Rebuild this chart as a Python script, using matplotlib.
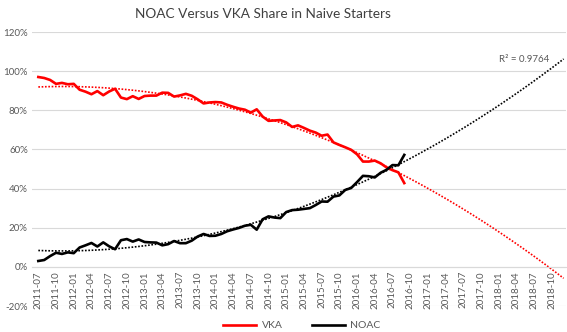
import numpy as np
import matplotlib
matplotlib.use("Agg")
import matplotlib.pyplot as plt

plt.rcParams['font.family'] = ['Lato', 'DejaVu Sans']

# monthly share of naive starters, 2011-07 .. 2016-09 (percent)
vka = [97, 96.5, 95.5, 93.5, 94, 93.3, 93.5, 90.5, 89.5, 88.2,
       89.8, 87.7, 89.6, 91, 86.5, 85.7, 87.2, 85.8, 87.3, 87.5,
       87.5, 89, 88.9, 87, 87.6, 88.4, 87.4, 85.6, 83.5, 84,
       84.2, 84, 82.8, 81.8, 80.9, 80.3, 78.8, 80.5, 76.8, 74.6,
       74.8, 75, 73.8, 71.5, 72.3, 71, 69.6, 68.6, 67, 67.6,
       63.6, 62.3, 61.1, 59.8, 57.5, 53.8, 53.8, 54.3, 52.9, 50.8,
       49.4, 48.3, 42.8]
noac = [3, 3.5, 5.5, 7.2, 6.6, 7.4, 7, 9.9, 11, 12.2,
        10.4, 12.5, 10.5, 9, 13.6, 14.2, 12.9, 14, 12.7, 12.5,
        12.4, 11, 11.6, 13.2, 12.1, 12.1, 13.4, 15.5, 16.8, 15.8,
        15.9, 16.8, 18.2, 19.1, 19.9, 21, 21.5, 19, 24.3, 25.8,
        25.2, 24.9, 28, 29, 29.2, 29.6, 30, 31.6, 33.4, 33.3,
        35.9, 36.5, 39.3, 40.3, 43.3, 46.5, 46.3, 45.7, 48.1, 49.6,
        52, 51.9, 57.2]

# category axis runs 2011-07 .. 2018-12 (trend forecast forward)
months = [f"{y}-{m:02d}" for y in range(2011, 2019) for m in range(1, 13)]
months = months[6:]
r2_text = "R² = 0.9764"

n = len(vka)
x = np.arange(n)
x_all = np.arange(len(months))

fig = plt.figure(figsize=(5.67, 3.32), dpi=100)
ax = fig.add_axes([32/567, 1 - 306/332, (566 - 32)/567, (306 - 32)/332])

grid_c = "#d9d9d9"
ax.set_ylim(-20, 120)
ax.set_xlim(-1.07, 89.4)
yt = np.arange(-20, 121, 20)
ax.set_yticks(yt)
ax.set_yticklabels([f"{v}%" for v in yt])
ax.grid(axis="y", color=grid_c, linewidth=0.8)
ax.set_axisbelow(True)

for s in ["top", "right", "left"]:
    ax.spines[s].set_visible(False)
ax.spines["bottom"].set_position(("data", 0))
ax.spines["bottom"].set_color(grid_c)
ax.spines["bottom"].set_linewidth(0.8)

ax.set_xticks(x_all[::3])
ax.set_xticklabels(months[::3], rotation=90)
ax.tick_params(axis="both", length=0, labelsize=7, colors="#595959", pad=3)

# polynomial (order 2) trend lines, forecast forward
vka_fit = np.polyval(np.polyfit(x, vka, 2), x_all)
noac_fit = np.polyval(np.polyfit(x, noac, 2), x_all)
ax.plot(x_all, vka_fit, color="red", linestyle=(0, (1, 1)), linewidth=1.2, zorder=2)
ax.plot(x_all, noac_fit, color="black", linestyle=(0, (1, 1)), linewidth=1.2, zorder=2)

ax.plot(x, vka, color="red", linewidth=1.9, label="VKA", zorder=3)
ax.plot(x, noac, color="black", linewidth=1.9, label="NOAC", zorder=3)

ax.text(86.5, 106, r2_text, fontsize=7, color="#595959", ha="right", va="center")

fig.suptitle("NOAC Versus VKA Share in Naive Starters", fontsize=9.8, color="#404040",
             x=263/567, y=0.975)
ax.legend(loc="upper center", bbox_to_anchor=(0.505, -0.02), ncol=2, frameon=False,
          fontsize=7.5, handlelength=3.2, handletextpad=0.5, columnspacing=2.8,
          labelcolor="#595959")

fig.savefig("out.png", dpi=100)
